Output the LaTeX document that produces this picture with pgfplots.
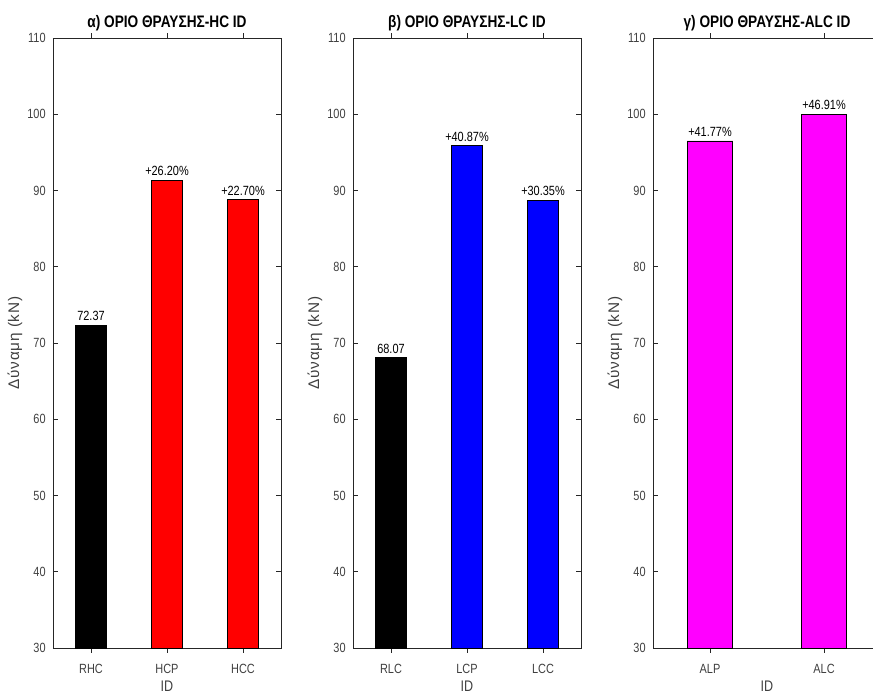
\documentclass[border=0pt]{standalone}
\usepackage{fontspec}
\setmainfont{Liberation Sans}[FakeStretch=0.82]
\newfontfamily\ylabfont{Liberation Sans}[LetterSpace=5]
\usepackage{pgfplots}
\pgfplotsset{compat=1.18}
\definecolor{axgray}{rgb}{0.15,0.15,0.15}
\definecolor{txtgray}{rgb}{0.25,0.25,0.25}
\definecolor{mmag}{rgb}{1,0,1}
\definecolor{mred}{rgb}{1,0,0}
\definecolor{mblue}{rgb}{0,0,1}
\pgfplotsset{
  matlab/.style={
    scale only axis,
    width=171pt, height=457.5pt,
    anchor=south west,
    ymin=30, ymax=110, ytick={30,40,...,110},
    xtick pos=both, ytick pos=both,
    tick align=inside,
    major tick length=3.5pt,
    axis line style={axgray, line width=0.5pt},
    every tick/.style={axgray, line width=0.5pt},
    /pgf/number format/assume math mode=true,
    tick label style={font=\fontsize{10}{12}\selectfont, text=txtgray},
    yticklabel style={xshift=-2pt},
    xticklabel style={yshift=-5pt},
    xlabel={ID},
    xlabel style={font=\fontsize{11.5}{13}\selectfont, text=txtgray, yshift=1.5pt},
    ylabel={\ylabfont Δύναμη (kN)},
    ylabel style={font=\fontsize{11.5}{13}\selectfont, text=txtgray, yshift=-3pt},
    title style={font=\bfseries\fontsize{12.5}{14}\selectfont, text=black, yshift=-4pt},
    ybar,
    bar width=0.4,
    point meta=explicit symbolic,
    nodes near coords,
    every node near coord/.style={font=\fontsize{10}{12}\selectfont, text=black, anchor=south, inner sep=3pt},
  },
  mbar/.style={fill=#1, draw=black, line width=0.6pt, bar shift=0pt},
}
\begin{document}
\begin{tikzpicture}
\useasboundingbox (0,0) rectangle (654.75pt,522.75pt);
% Panel a
\begin{axis}[matlab, at={(39.75pt,36.75pt)},
  xmin=0.5, xmax=3.5, xtick={1,2,3}, xticklabels={RHC,HCP,HCC},
  title={α) ΟΡΙΟ ΘΡΑΥΣΗΣ-HC ID}]
\addplot[mbar=black] coordinates {(1,72.37) [72.37]};
\addplot[mbar=mred] coordinates {(2,91.33) [+26.20\%] (3,88.80) [+22.70\%]};
\end{axis}
% Panel b
\begin{axis}[matlab, at={(264.75pt,36.75pt)},
  xmin=0.5, xmax=3.5, xtick={1,2,3}, xticklabels={RLC,LCP,LCC},
  title={β) ΟΡΙΟ ΘΡΑΥΣΗΣ-LC ID}]
\addplot[mbar=black] coordinates {(1,68.07) [68.07]};
\addplot[mbar=mblue] coordinates {(2,95.89) [+40.87\%] (3,88.73) [+30.35\%]};
\end{axis}
% Panel c
\begin{axis}[matlab, at={(489.75pt,36.75pt)},
  xmin=0.5, xmax=2.5, xtick={1,2}, xticklabels={ALP,ALC},
  title={γ) ΟΡΙΟ ΘΡΑΥΣΗΣ-ALC ID}]
\addplot[mbar=mmag] coordinates {(1,96.50) [+41.77\%] (2,100.00) [+46.91\%]};
\end{axis}
\end{tikzpicture}
\end{document}
